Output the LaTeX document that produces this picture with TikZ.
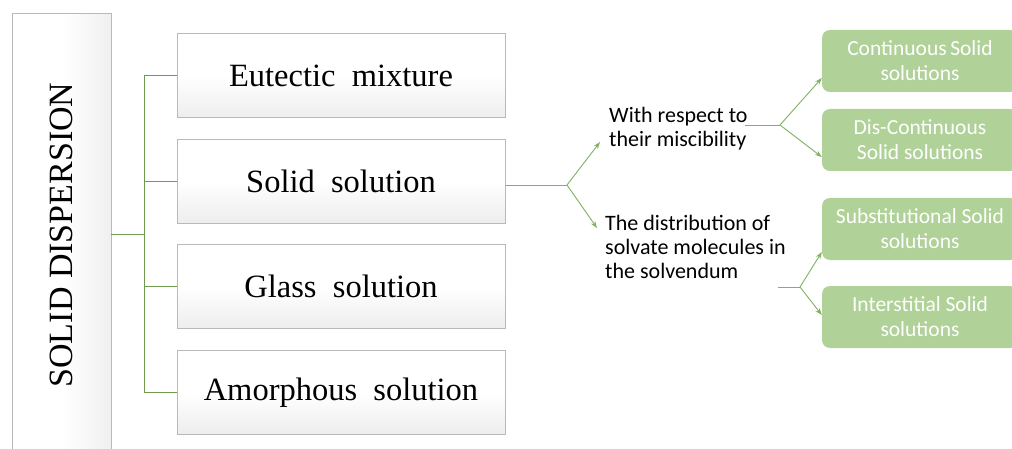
\documentclass[tikz,border=0pt]{standalone}
\usepackage{fontspec}
\setmainfont{Liberation Serif}
\newfontfamily\calfont{Carlito}
\usetikzlibrary{arrows.meta}
\definecolor{treegreen}{RGB}{110,155,80}
\definecolor{arrgreen}{RGB}{128,178,98}
\definecolor{boxgreen}{RGB}{176,210,152}
\definecolor{boxedge}{RGB}{185,185,185}
\tikzset{
  bevel/.style={draw=boxedge, line width=1pt, top color=white, bottom color=black!7, middle color=white},
  catbox/.style={bevel, minimum width=328pt, minimum height=84pt, inner sep=0pt,
    font=\fontsize{32.5}{34}\selectfont},
  greenbox/.style={fill=boxgreen, rounded corners=8pt, minimum width=196pt, minimum height=62pt,
    inner sep=0pt, align=center, text=white, font=\calfont\fontsize{21.5}{25}\selectfont},
  plain/.style={align=left, inner sep=0pt, anchor=west, font=\calfont\fontsize{22}{24}\selectfont},
  tree/.style={draw=treegreen, line width=1pt},
  arr/.style={draw=arrgreen, line width=0.9pt, -{Stealth[length=7pt,width=5pt]}},
  fork/.style={draw=arrgreen, line width=0.9pt}
}
\begin{document}
\begin{tikzpicture}[x=1pt,y=-1pt]
\useasboundingbox (0,0) rectangle (1012,449);
\fill[white] (0,0) rectangle (1012,449);
% left tall box
\node[draw=boxedge, line width=1pt, left color=white, right color=black!6, middle color=white,
  minimum width=99pt, minimum height=440pt, inner sep=0pt, anchor=north west] (sd) at (12,13) {};
\node[rotate=90, font=\fontsize{34}{36}\selectfont] (sdt) at (61,235) {SOLID DISPERSION};
% category boxes
\node[catbox] (eu) at (341,76) {Eutectic\ \ mixture};
\node[catbox] (ss) at (341,181.5) {Solid\ \ solution};
\node[catbox] (gs) at (341,286.5) {Glass\ \ solution};
\node[catbox] (am) at (341,392.5) {Amorphous\ \ solution};
% tree
\coordinate (t0) at (111,235);
\coordinate (tj) at (144,235);
\draw[tree] (t0) -- (tj);
\draw[tree] (eu.west -| tj) -- (am.west -| tj);
\draw[tree] (eu.west -| tj) -- (eu.west);
\draw[tree] (ss.west -| tj) -- (ss.west);
\draw[tree] (gs.west -| tj) -- (gs.west);
\draw[tree] (am.west -| tj) -- (am.west);
% sub categories
\node[plain] (mis) at (609,129) {With respect to\\their miscibility};
\node[plain] (dis) at (605,247) {The distribution of\\solvate molecules in\\the solvendum};
\node[greenbox] (cs) at (920,61) {Continuous\,Solid\\solutions};
\node[greenbox] (dc) at (920,140) {Dis-Continuous\\Solid solutions};
\node[greenbox] (sb) at (920,229) {Substitutional Solid\\solutions};
\node[greenbox] (is) at (920,317) {Interstitial Solid\\solutions};
% fork 1
\coordinate (f1) at (567,185);
\coordinate (a1) at (600,142);
\coordinate (a2) at (597,228);
\draw[fork] (ss.east |- f1) -- (f1);
\draw[arr] (f1) -- (a1);
\draw[arr] (f1) -- (a2);
% fork 2
\coordinate (m0) at (745,125);
\coordinate (f2) at (780,125);
\draw[fork] (m0) -- (f2);
\draw[arr] (f2) -- (cs.west |- 0,78);
\draw[arr] (f2) -- (cs.west |- 0,157);
% fork 3
\coordinate (d0) at (778,287);
\coordinate (f3) at (800,287);
\draw[fork] (d0) -- (f3);
\draw[arr] (f3) -- (sb.west |- 0,252);
\draw[arr] (f3) -- (is.west |- 0,315);
\end{tikzpicture}
\end{document}
